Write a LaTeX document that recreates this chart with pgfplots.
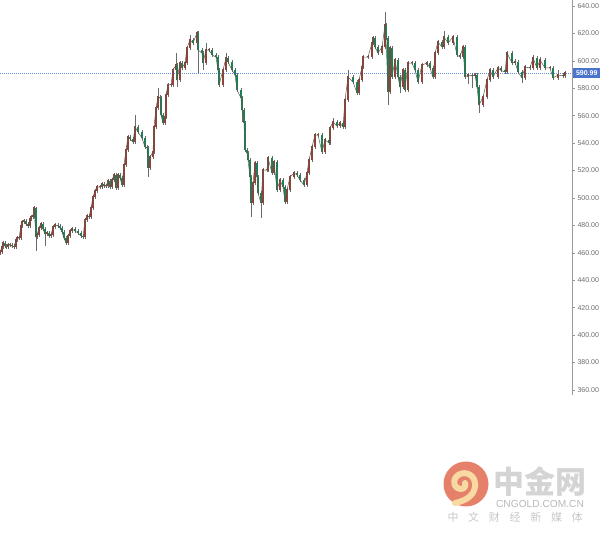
\documentclass[border=0pt]{standalone}
\usepackage{pgfplots}
\usepackage{pgfplotstable}
\usepackage{fontspec}
\setmainfont{Liberation Sans}
\newfontfamily\cjk{Noto Sans CJK SC}
\pgfplotsset{compat=1.18}
\definecolor{upc}{HTML}{8E4238}
\definecolor{dnc}{HTML}{1F7F54}
\definecolor{wick}{HTML}{6A6A6A}
\definecolor{axc}{HTML}{9A9A9A}
\definecolor{quotelinec}{HTML}{5F90DC}
\definecolor{boxc}{HTML}{4A74CE}
\definecolor{logoc}{HTML}{E5816A}
\definecolor{swirl}{HTML}{F8D9A2}
\definecolor{linkc}{HTML}{5A5A50}
\pgfplotstableread{
x o c l h
0 459.5 460.6 458.5 461.8
2 460.6 464.3 459.4 465.5
3 464.3 467.2 463.1 468.4
5 467.2 465.0 463.8 468.4
6 465.0 464.3 463.1 466.2
8 464.3 465.7 463.1 466.9
10 465.7 465.7 464.5 466.9
12 465.7 465.0 463.8 466.9
14 465.0 464.3 463.1 466.2
16 464.3 469.4 463.1 470.6
17 469.4 470.8 468.2 472.0
19 470.8 470.8 469.6 472.0
21 470.8 479.6 469.6 480.8
22 479.6 482.5 478.4 483.7
24 482.5 483.2 481.3 484.4
26 483.2 481.0 479.8 484.4
28 481.0 479.6 478.4 482.2
30 479.6 484.7 478.4 485.9
31 484.7 486.1 483.5 487.3
33 486.1 486.9 484.9 488.1
34 486.9 492.7 485.7 494.2
36 492.7 471.6 461.4 493.5
37 471.6 473.0 470.4 474.2
39 473.0 478.1 471.8 479.3
41 478.1 481.0 476.9 482.2
43 481.0 477.4 476.2 482.2
45 477.4 473.7 465.0 478.6
47 473.7 474.5 472.5 475.7
49 474.5 472.3 471.1 475.7
51 472.3 473.0 471.1 474.2
53 473.0 478.9 471.8 480.1
55 478.9 480.3 477.7 481.5
58 480.3 479.6 478.4 481.5
60 479.6 478.1 476.9 480.8
62 478.1 475.2 474.0 479.3
64 475.2 470.8 469.6 476.4
66 470.8 467.2 466.0 472.0
68 467.2 472.3 466.0 473.5
70 472.3 475.9 471.1 477.1
72 475.9 477.4 474.7 478.6
75 477.4 475.9 474.7 478.6
78 475.9 474.5 473.3 477.1
81 474.5 472.3 471.1 475.7
83 472.3 471.6 470.4 473.5
85 471.6 484.0 470.4 485.2
87 484.0 486.9 482.8 488.1
89 486.9 486.1 484.9 488.1
91 486.1 492.7 484.9 493.9
93 492.7 500.7 491.5 501.9
95 500.7 505.1 499.5 506.3
97 505.1 508.0 503.9 509.2
100 508.0 508.0 506.8 509.2
102 508.0 510.2 506.8 511.4
104 510.2 508.7 507.5 511.4
106 508.7 508.7 507.5 509.9
108 508.7 512.4 507.5 513.6
110 512.4 508.0 506.8 513.6
112 508.0 513.1 506.8 514.3
114 513.1 516.8 511.9 518.0
116 516.8 507.3 506.1 518.0
118 507.3 516.8 506.1 518.0
120 516.8 514.6 513.4 518.0
122 514.6 509.5 508.3 515.8
124 509.5 524.1 508.3 525.3
126 524.1 535.0 522.9 536.2
128 535.0 544.5 533.8 545.7
130 544.5 543.0 541.8 545.7
133 543.0 540.8 539.6 544.2
135 540.8 551.8 539.6 560.5
138 551.8 548.1 546.9 553.0
142 548.1 543.7 542.5 549.3
145 543.7 537.2 536.0 544.9
147 537.2 536.5 535.3 538.4
148 536.5 521.9 515.3 537.7
150 521.9 529.9 520.7 531.1
153 529.9 533.5 528.7 534.7
154 533.5 551.8 532.3 553.0
156 551.8 565.6 550.6 566.8
158 565.6 573.6 564.4 580.2
160 573.6 572.9 571.7 574.8
161 572.9 560.5 559.3 574.1
163 560.5 554.7 553.5 561.7
165 554.7 559.1 553.5 560.3
166 559.1 575.1 557.9 576.3
168 575.1 582.4 573.9 583.6
171 582.4 582.4 581.2 583.6
173 582.4 593.3 581.2 594.5
176 593.3 597.0 592.1 605.7
177 597.0 586.0 580.9 598.2
180 586.0 598.4 584.8 599.6
182 598.4 594.8 593.6 599.6
185 594.8 598.4 593.6 599.6
187 598.4 609.4 597.2 610.6
190 609.4 615.2 608.2 618.9
193 615.2 613.0 611.8 616.4
197 613.0 620.3 611.8 621.8
198 620.3 607.9 591.1 621.5
202 607.9 605.7 604.5 609.1
203 605.7 598.4 593.3 606.9
206 598.4 607.9 597.2 613.0
209 607.9 607.9 606.7 609.1
212 607.9 604.3 603.1 609.1
216 604.3 602.8 601.6 605.5
218 602.8 593.3 592.1 604.0
219 593.3 582.4 581.2 594.5
223 582.4 593.3 581.2 594.5
226 593.3 602.1 592.1 606.0
228 602.1 599.2 598.0 603.3
232 599.2 593.3 592.1 600.4
235 593.3 589.7 588.5 594.5
237 589.7 578.8 577.6 590.9
241 578.8 572.9 571.7 580.0
242 572.9 564.2 555.4 574.1
244 564.2 554.7 553.5 565.4
245 554.7 535.0 533.8 555.9
247 535.0 532.8 531.6 536.2
248 532.8 527.7 526.5 534.0
250 527.7 515.3 514.1 528.9
251 515.3 496.4 486.1 516.5
253 496.4 510.9 495.2 512.1
255 510.9 525.5 509.7 526.7
257 525.5 515.3 514.1 526.7
258 515.3 503.6 502.4 516.5
261 503.6 496.4 485.4 504.8
263 496.4 520.4 495.2 521.6
267 520.4 520.4 519.2 521.6
268 520.4 529.2 519.2 530.4
272 529.2 518.2 517.0 530.4
274 518.2 526.2 517.0 527.4
277 526.2 505.8 504.6 527.4
280 505.8 513.1 504.6 514.3
283 513.1 508.0 506.8 514.3
285 508.0 497.1 495.9 509.2
287 497.1 505.8 495.9 507.0
290 505.8 515.3 504.6 516.5
294 515.3 518.2 514.1 519.4
297 518.2 516.8 515.6 519.4
300 516.8 513.1 511.9 518.0
304 513.1 509.5 508.3 514.3
307 509.5 518.2 508.3 519.4
309 518.2 527.7 517.0 528.9
312 527.7 537.2 526.5 538.4
315 537.2 545.9 536.0 547.1
318 545.9 545.9 544.7 547.1
322 545.9 533.5 532.3 547.1
325 533.5 542.3 532.3 543.5
329 542.3 540.1 538.9 543.5
330 540.1 551.0 538.9 552.2
333 551.0 555.4 549.8 558.3
337 555.4 552.5 551.3 556.6
340 552.5 554.7 551.3 555.9
343 554.7 551.8 550.6 555.9
345 551.8 571.5 550.6 572.7
348 571.5 588.2 570.3 593.3
353 588.2 584.6 583.4 589.4
357 584.6 576.6 575.4 585.8
359 576.6 586.0 575.4 587.2
362 586.0 595.5 584.8 596.7
363 595.5 602.8 594.3 604.0
368 602.8 602.8 601.6 604.0
372 602.8 613.0 601.6 614.2
373 613.0 616.7 611.8 617.9
375 616.7 610.1 608.9 617.9
378 610.1 605.7 604.5 611.3
382 605.7 610.1 604.5 611.3
385 610.1 626.1 608.9 635.6
386 626.1 616.7 615.5 627.3
388 616.7 577.3 567.8 617.9
390 577.3 609.4 576.1 610.6
392 609.4 588.2 587.0 610.6
395 588.2 600.6 587.0 601.8
398 600.6 588.2 587.0 601.8
400 588.2 580.9 576.6 589.4
403 580.9 593.3 579.7 594.5
405 593.3 578.8 577.6 594.5
408 578.8 598.4 577.6 599.6
412 598.4 598.4 597.2 599.6
415 598.4 593.3 592.1 599.6
418 593.3 584.6 583.4 594.5
422 584.6 597.0 583.4 598.2
427 597.0 598.4 595.8 599.6
430 598.4 594.8 593.6 599.6
433 594.8 588.2 587.0 596.0
435 588.2 605.7 587.0 606.9
438 605.7 613.7 604.5 614.9
442 613.7 610.1 608.9 614.9
444 610.1 617.4 608.9 621.8
448 617.4 613.0 611.8 618.6
453 613.0 617.4 611.8 618.6
457 617.4 604.3 603.1 618.6
460 604.3 602.8 601.6 605.5
463 602.8 610.1 601.6 611.3
465 610.1 588.2 587.0 611.3
468 588.2 589.7 583.0 591.5
472 589.7 589.0 580.0 591.5
475 589.0 589.7 587.8 590.9
477 589.7 580.9 579.7 590.9
479 580.9 567.8 562.0 582.1
483 567.8 573.6 566.6 574.8
487 573.6 586.0 572.4 587.2
490 586.0 593.3 584.8 594.5
493 593.3 588.2 587.0 594.5
498 588.2 594.8 587.0 596.0
501 594.8 593.0 591.8 596.0
505 593.0 591.9 590.7 594.2
507 591.9 605.7 590.7 606.9
512 605.7 598.4 597.2 606.9
515 598.4 599.2 597.2 601.5
518 599.2 591.9 590.7 600.4
522 591.9 587.5 584.0 593.1
525 587.5 595.5 586.3 596.7
530 595.5 594.8 593.6 596.7
533 594.8 602.1 593.6 604.0
537 602.1 594.8 593.6 603.3
540 594.8 600.6 593.6 602.5
545 600.6 594.8 593.6 601.8
550 594.8 594.8 593.6 596.0
553 594.8 587.5 586.3 596.0
558 587.5 589.7 586.3 593.0
563 589.7 589.0 587.8 590.9
565 589.0 591.2 587.8 592.4
}\candles
\begin{document}
\begin{tikzpicture}[x=1pt,y=1pt]
\useasboundingbox (0,0) rectangle (600,535);
\begin{axis}[
  at={(0pt,140pt)}, anchor=south west,
  scale only axis, width=572pt, height=395pt,
  xmin=0, xmax=572, ymin=356.35, ymax=644.375,
  axis x line=none, axis y line=right,
  axis line style={axc,-,line width=0.8pt},
  ytick={360,380,...,640},
  yticklabel style={/pgf/number format/fixed,/pgf/number format/fixed zerofill,/pgf/number format/precision=2,/pgf/number format/assume math mode=true,font=\fontsize{7}{8}\selectfont,text=black!58,xshift=-1pt},
  ytick style={axc,line width=0.6pt},
  tick align=outside, major tick length=3pt,
  unbounded coords=discard, clip=false,
]
\addplot[draw=none,mark=none,forget plot,error bars/.cd,x dir=plus,x explicit,error mark=none,error bar style={quotelinec,dash pattern=on 1pt off 1pt,line width=0.7pt}] coordinates {(0,590.99) +- (572,0)};
\addplot[draw=none,mark=none,error bars/.cd,y dir=both,y explicit,error mark=none,error bar style={wick,line width=0.45pt}]
  table[x=x,y=o,y error plus expr={\thisrow{h}-\thisrow{o}},y error minus expr={\thisrow{o}-\thisrow{l}}] {\candles};
\addplot[draw=none,mark=none,error bars/.cd,y dir=plus,y explicit,error mark=none,error bar style={upc,line width=1.9pt}]
  table[x=x,y expr={\thisrow{c}>=\thisrow{o} ? \thisrow{o} : nan},y error plus expr={abs(\thisrow{c}-\thisrow{o})+0.5}] {\candles};
\addplot[draw=none,mark=none,error bars/.cd,y dir=plus,y explicit,error mark=none,error bar style={dnc,line width=1.9pt}]
  table[x=x,y expr={\thisrow{c}<\thisrow{o} ? \thisrow{c} : nan},y error plus expr={abs(\thisrow{c}-\thisrow{o})}] {\candles};
\addplot[color=linkc,line width=0.5pt,mark=none,line join=round] table[x=x,y=c] {\candles};
\node[fill=boxc,text=white,inner sep=0pt,minimum width=27pt,minimum height=10.5pt,anchor=west,font=\fontsize{7}{8}\selectfont\bfseries] at (axis cs:573,590.99) {590.99};
\end{axis}
\begin{scope}[shift={(0,535)},y=-1pt]
  \fill[logoc] (466,484) circle (22.5);
  \draw[swirl,line width=6pt,line cap=round,line join=round] (455,503) .. controls (470,500) and (476,492) .. (475,483) .. controls (474,473) and (462,470) .. (456,477) .. controls (452,483) and (455,489) .. (461,489) .. controls (465,489) and (466,485) .. (465,483);
  \node[font=\cjk\bfseries\fontsize{31}{32}\selectfont,text=black!17,inner sep=0pt] at (540,482) {中金网};
  \node[font=\fontsize{10.2}{11}\selectfont,text=black!28,inner sep=0pt] at (540,504) {CNGOLD.COM.CN};
  \foreach \c [count=\i from 0] in {中,文,财,经,新,媒,体}
    \node[font=\cjk\fontsize{11}{12}\selectfont,text=black!22,inner sep=0pt] at (453+20.7*\i,517) {\c};
\end{scope}
\end{tikzpicture}
\end{document}
